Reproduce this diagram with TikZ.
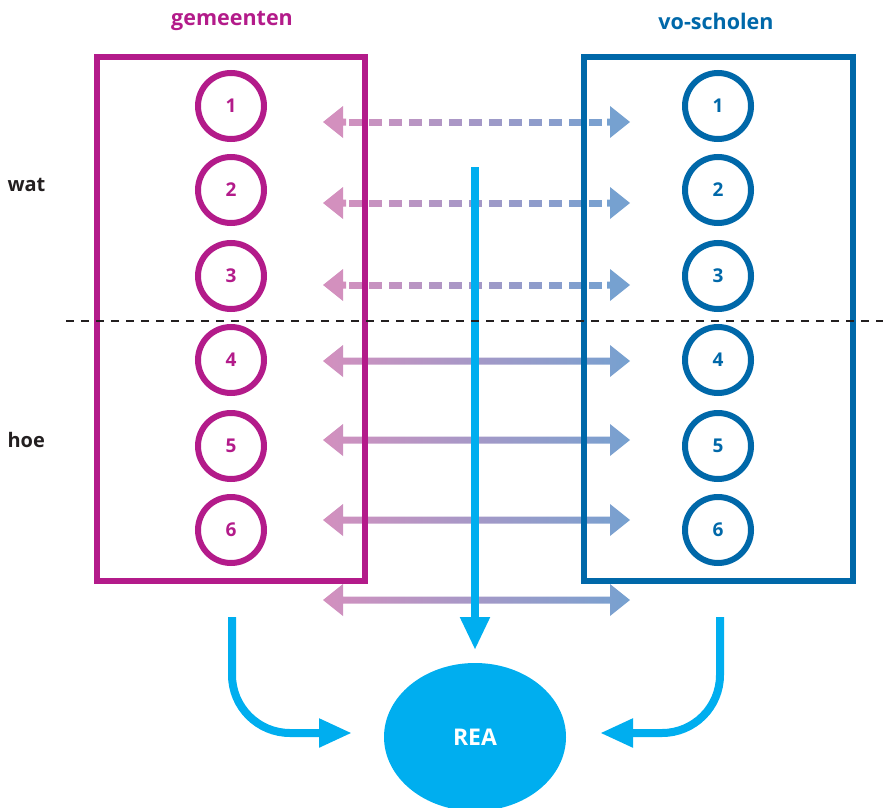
\documentclass[tikz,border=0pt]{standalone}
\usepackage{fontspec}
\setmainfont{Open Sans}
\usetikzlibrary{arrows.meta,shapes.geometric}
\definecolor{mag}{HTML}{B31B8A}
\definecolor{vob}{HTML}{0068A9}
\definecolor{cyanr}{HTML}{00AEEF}
\definecolor{pinkA}{HTML}{D390BE}
\definecolor{blueA}{HTML}{76A1D0}
\definecolor{txt}{HTML}{231F20}
\tikzset{
  numcirc/.style={circle,line width=6pt,minimum size=66pt,inner sep=0pt,font=\fontsize{19}{19}\selectfont\bfseries},
  lcirc/.style={numcirc,draw=mag,text=mag},
  rcirc/.style={numcirc,draw=vob,text=vob},
  bigbox/.style={line width=6.5pt},
  flowline/.style={cyanr,line width=8pt,-{Triangle[length=33pt,width=27pt]}},
  headtxt/.style={font=\fontsize{21.5}{21.5}\selectfont\bfseries},
  sidetxt/.style={font=\fontsize{20}{20}\selectfont\bfseries,text=txt,anchor=west}
}
\begin{document}
\begin{tikzpicture}[x=1pt,y=-1pt]
\useasboundingbox (0,0) rectangle (883,808);
% REA
\begin{scope}
\clip (0,0) rectangle (883,808);
\node[ellipse,fill=cyanr,minimum width=182pt,minimum height=148pt,inner sep=0pt,
  text=white,font=\fontsize{23}{23}\selectfont\bfseries] (rea) at (475,737) {REA};
\end{scope}
% horizontal double arrows
\foreach \y/\k in {122/1,203/2,285/3}{
  \coordinate (la\k) at (323,\y);
  \coordinate (ra\k) at (630,\y);
  \fill[pinkA] (la\k) -- ++(20,-16) -- ++(0,12.5) -- ++(3,0) -- ++(0,7) -- ++(-3,0) -- ++(0,12.5) -- cycle;
  \fill[blueA] (ra\k) -- ++(-20,-16) -- ++(0,12.5) -- ++(-3,0) -- ++(0,7) -- ++(3,0) -- ++(0,12.5) -- cycle;
  \foreach \i in {0,...,12}{
    \pgfmathsetmacro{\xa}{349+20*\i}
    \pgfmathtruncatemacro{\pc}{100-(\xa+6.5-343)/267*100}
    \fill[pinkA!\pc!blueA] (\xa,\y-3.5) rectangle ++(13,7);
  }
}
\foreach \y/\k in {361/4,440/5,520/6,600/7}{
  \coordinate (la\k) at (323,\y);
  \coordinate (ra\k) at (630,\y);
  \shade[left color=pinkA,right color=blueA] (la\k) -- ++(20,-16) -- ++(0,12.5) -- (610,\y-3.5) -- ++(0,-12.5) -- (ra\k) -- (610,\y+16) -- ++(0,-12.5) -- (343,\y+3.5) -- ++(0,12.5) -- cycle;
}
% boxes
\draw[bigbox,mag] (97,57) rectangle (365,581);
\draw[bigbox,vob] (584,57) rectangle (853,581);
% cyan central arrow
\coordinate (ctop) at (475,167);
\draw[cyanr,line width=8pt,-{Triangle[length=33pt,width=28pt]}] (ctop) -- (rea.north |- 0,650);
% circles
\foreach \y/\n in {106/1,190/2,276/3,360/4,446/5,530/6}{
  \node[lcirc] (l\n) at (231,\y) {\n};
  \node[rcirc] (r\n) at (718,\y) {\n};
}
% dashed separator
\coordinate (sepL) at (66,321);
\coordinate (sepR) at (883,321);
\draw[txt,line width=1.8pt,dash pattern=on 8pt off 7pt] (sepL) -- (sepR);
% curved arrows
\coordinate (cl) at (232,617);
\coordinate (cr) at (720,617);
\draw[flowline] (cl) -- (232,675) arc[start angle=180,end angle=270,x radius=58,y radius=-58] -- (352,733);
\draw[flowline] (cr) -- (720,675) arc[start angle=0,end angle=-90,x radius=58,y radius=-58] -- (600,733);
% texts
\node[headtxt,text=mag] (tg) at (232,21) {gemeenten};
\node[headtxt,text=vob] (tv) at (716,21) {vo-scholen};
\node[sidetxt] (wat) at (4,185) {wat};
\node[sidetxt] (hoe) at (4,440) {hoe};
\end{tikzpicture}
\end{document}
